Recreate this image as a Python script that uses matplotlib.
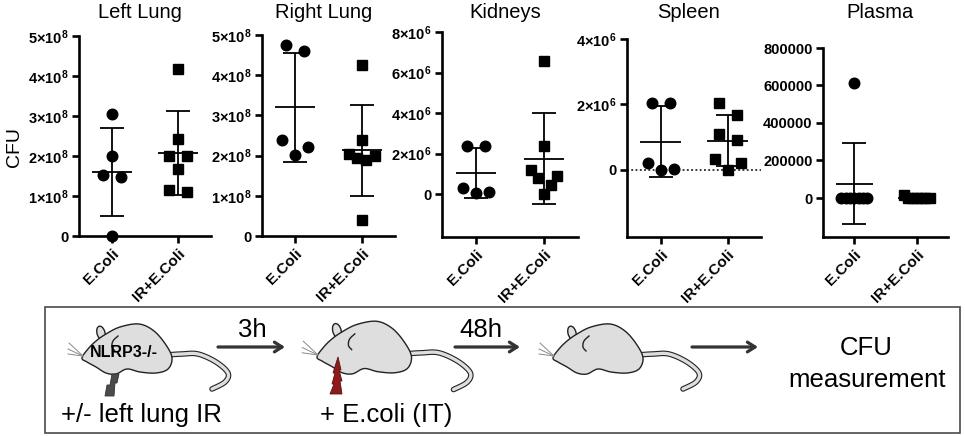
#!/usr/bin/env python3

import numpy as np
import matplotlib
matplotlib.use('Agg')
import matplotlib.pyplot as plt
from matplotlib.patches import Polygon, Ellipse, Rectangle

plt.rcParams['font.family'] = ['Liberation Sans', 'DejaVu Sans']
plt.rcParams['mathtext.fontset'] = 'custom'
plt.rcParams['mathtext.rm'] = 'Liberation Sans:bold'
plt.rcParams['mathtext.bf'] = 'Liberation Sans:bold'
plt.rcParams['mathtext.default'] = 'rm'

W, H = 965, 436

# ---- data (CFU) ----
groups = ['E.Coli', 'IR+E.Coli']
titles = ['Left Lung', 'Right Lung', 'Kidneys', 'Spleen', 'Plasma']

left_ecoli = [3.05e8, 2.0e8, 1.53e8, 1.47e8, 0.0]
left_ir = [4.18e8, 2.42e8, 1.99e8, 1.99e8, 1.68e8, 1.11e8, 1.16e8]
right_ecoli = [4.75e8, 4.61e8, 2.40e8, 2.22e8, 2.01e8]
right_ir = [4.25e8, 2.40e8, 2.05e8, 2.0e8, 1.95e8, 1.9e8, 0.40e8]
kid_ecoli = [2.39e6, 2.39e6, 0.30e6, 0.05e6, 0.08e6]
kid_ir = [6.57e6, 2.39e6, 1.2e6, 0.79e6, 0.87e6, 0.46e6, 0.0]
spl_ecoli = [2.04e6, 2.04e6, 0.2e6, 0.0, 0.02e6]
spl_ir = [2.04e6, 1.68e6, 1.10e6, 0.92e6, 0.33e6, 0.20e6, 0.0]
pla_ecoli = [613000, 0, 0, 0, 0, 0, 0, 0]
pla_ir = [16000, 0, 0, 0, 0, 0, 0]

lung_ticks = [0, 1e8, 2e8, 3e8, 4e8, 5e8]
lung_labels = ['0', '$1×10^{8}$', '$2×10^{8}$', '$3×10^{8}$', '$4×10^{8}$', '$5×10^{8}$']
kid_ticks = [0, 2e6, 4e6, 6e6, 8e6]
kid_labels = ['0', '$2×10^{6}$', '$4×10^{6}$', '$6×10^{6}$', '$8×10^{6}$']
spl_ticks = [0, 2e6, 4e6]
spl_labels = ['0', '$2×10^{6}$', '$4×10^{6}$']
pla_ticks = [0, 200000, 400000, 600000, 800000]
pla_labels = ['0', '200000', '400000', '600000', '800000']

panels = [
    (left_ecoli, left_ir, lung_ticks, lung_labels, (0, 5e8), [79, 36, 211, 236]),
    (right_ecoli, right_ir, lung_ticks, lung_labels, (0, 5e8), [262, 35, 395, 236]),
    (kid_ecoli, kid_ir, kid_ticks, kid_labels, (-2.12e6, 8e6), [442, 32, 578, 237]),
    (spl_ecoli, spl_ir, spl_ticks, spl_labels, (-2.05e6, 4e6), [627, 39, 761, 237]),
    (pla_ecoli, pla_ir, pla_ticks, pla_labels, (-208000, 8e5), [823, 48, 948, 237]),
]


def swarm_x(ax, xc, vals, thresh=12, span=26, step=18):
    vals = np.asarray(vals, float)
    pts = ax.transData.transform(np.column_stack([np.full(len(vals), xc), vals]))
    ypx = pts[:, 1]
    order = np.argsort(ypx, kind='stable')
    clusters = [[order[0]]]
    for i in order[1:]:
        if ypx[i] - ypx[clusters[-1][-1]] < thresh:
            clusters[-1].append(i)
        else:
            clusters.append([i])
    xpx = pts[:, 0].copy()
    for c in clusters:
        k = len(c)
        if k == 1:
            continue
        d = min(step, span / (k - 1))
        if k % 2:
            offs = [0] + [s * m for m in range(1, k) for s in (1, -1)]
        else:
            offs = [s * (m - 0.5) for m in range(1, k) for s in (1, -1)]
        for j, idx in enumerate(c):
            xpx[idx] += offs[j] * d
    inv = ax.transData.inverted()
    return inv.transform(np.column_stack([xpx, ypx]))[:, 0]


fig = plt.figure(figsize=(W / 100, H / 100), dpi=100)

for t, (a, b, ticks, labels, ylim, box) in zip(titles, panels):
    x0, y0, x1, y1 = box
    ax = fig.add_axes([x0 / W, 1 - y1 / H, (x1 - x0) / W, (y1 - y0) / H])
    ax.set_xlim(-0.5, 1.5)
    ax.set_ylim(*ylim)
    for s in ['top', 'right']:
        ax.spines[s].set_visible(False)
    for s in ['left', 'bottom']:
        ax.spines[s].set_linewidth(1.9)
    ax.tick_params(width=1.9, length=5, direction='out', pad=2.5)
    ax.set_yticks(ticks)
    ax.set_yticklabels(labels, fontsize=10.5, fontweight='bold')
    ax.set_xticks([0, 1])
    ax.set_xticklabels(groups, rotation=45, ha='right', rotation_mode='anchor',
                       fontsize=11, fontweight='bold')
    if t == 'Spleen':
        ax.axhline(0, color='black', lw=1.1, ls=(0, (1.2, 1.6)), zorder=1)
    for xc, vals, mk, ms in [(0, a, 'o', 7.6), (1, b, 's', 7.0)]:
        xs = swarm_x(ax, xc, vals)
        ax.plot(xs, vals, mk, color='black', ms=ms, ls='none', clip_on=False, zorder=3)
        m = np.mean(vals)
        sd = np.std(vals, ddof=1)
        ax.errorbar(xc, m, yerr=sd, fmt='none', ecolor='black', elinewidth=1.3,
                    capsize=8.5, capthick=1.3, zorder=4)
        ax.hlines(m, xc - 0.3, xc + 0.3, color='black', lw=1.3, zorder=4)
    cx = (x0 + x1) / 2 - 5
    fig.text(cx / W, 1 - 13 / H, t, ha='center', va='center', fontsize=14.5)

fig.text(15 / W, 1 - 147 / H, 'CFU', rotation=90, ha='center', va='center', fontsize=14)

# ---- bottom schematic, drawn in pixel coordinates ----
ov = fig.add_axes([0, 0, 1, 1])
ov.set_xlim(0, W)
ov.set_ylim(H, 0)
ov.axis('off')
ov.patch.set_alpha(0)

ov.add_patch(Rectangle((45, 307), 915, 126, fill=False, ec='#4a4a4a', lw=1.2))


def catmull(pts, closed=True, n=12):
    p = np.asarray(pts, float)
    if closed:
        p = np.vstack([p[-1], p, p[0], p[1]])
    else:
        p = np.vstack([p[0], p, p[-1]])
    out = []
    for i in range(1, len(p) - 2):
        p0, p1, p2, p3 = p[i - 1], p[i], p[i + 1], p[i + 2]
        for t in np.linspace(0, 1, n, endpoint=False):
            out.append(0.5 * ((2 * p1) + (-p0 + p2) * t + (2 * p0 - 5 * p1 + 4 * p2 - p3) * t ** 2
                              + (-p0 + 3 * p1 - 3 * p2 + p3) * t ** 3))
    if not closed:
        out.append(p[-2])
    return np.array(out)


body_pts = [(0, 0), (6, -9), (14, -17), (24, -24), (38, -31), (57, -34), (72, -27),
            (84, -13), (90, 0), (86, 11), (74, 15), (58, 14), (45, 11), (34, 16),
            (24, 15), (14, 9), (5, 4)]
tail_pts = [(84, -3), (100, -4), (116, -4), (134, 4), (146, 15), (143, 24), (130, 31)]


def mouse(x0, y0, s=1.0):
    grey = '#dedede'
    tail = catmull(tail_pts, closed=False) * s + (x0, y0)
    ov.plot(tail[:, 0], tail[:, 1], color='#222222', lw=4.0, solid_capstyle='round', zorder=2)
    ov.plot(tail[:, 0], tail[:, 1], color=grey, lw=2.4, solid_capstyle='round', zorder=2)
    ov.add_patch(Ellipse((x0 + 19 * s, y0 - 25 * s), 8 * s, 14 * s, angle=-15,
                         fc=grey, ec='#222222', lw=1.0, zorder=2))
    b = catmull(body_pts) * s + (x0, y0)
    ov.add_patch(Polygon(b, closed=True, fc=grey, ec='#222222', lw=1.0, zorder=3))
    ear = catmull([(36, -22), (31, -17), (30, -11), (33, -7)], closed=False) * s + (x0, y0)
    ov.plot(ear[:, 0], ear[:, 1], color='#222222', lw=1.0, zorder=4)
    for ex, ey in [(-13, -15), (-14, -9), (-14, -4)]:
        ov.plot([x0 + 1, x0 + ex * s], [y0 - 2, y0 + ey * s], color='#8a8a8a', lw=0.7, zorder=4)


mouse(82, 358, 1.0)
mouse(317, 357, 1.05)
mouse(553, 358, 1.0)

ov.add_patch(Polygon([(112, 374), (119, 374), (117, 383), (115, 383), (114, 396),
                      (105, 396), (107, 385), (110, 385)], closed=True,
                     fc='#4b4b4b', ec='#333333', lw=0.6, zorder=5))
ov.add_patch(Polygon([(338, 357), (341, 370), (339, 370), (342, 381), (340, 381),
                      (342, 394), (330, 394), (334, 384), (332, 384), (335, 373),
                      (333, 373)], closed=True, fc='#8e1b1b', ec='#5a1010', lw=0.6, zorder=5))

ov.text(124, 352, 'NLRP3-/-', ha='center', va='center', fontsize=11.5,
        fontweight='bold', zorder=6)

arrow = dict(arrowstyle='->,head_length=0.55,head_width=0.35', lw=2.3, color='#333333',
             shrinkA=0, shrinkB=0)
for xa, xb in [(218, 285), (455, 520), (692, 758)]:
    ov.annotate('', xy=(xb, 347), xytext=(xa, 347), arrowprops=arrow, zorder=6)

bt = 18.5
ov.text(252, 337, '3h', ha='center', va='baseline', fontsize=bt)
ov.text(481, 337, '48h', ha='center', va='baseline', fontsize=bt)
ov.text(141, 422, '+/- left lung IR', ha='center', va='baseline', fontsize=bt)
ov.text(386, 422, '+ E.coli (IT)', ha='center', va='baseline', fontsize=bt)
ov.text(866, 355, 'CFU', ha='center', va='baseline', fontsize=bt)
ov.text(867, 387, 'measurement', ha='center', va='baseline', fontsize=bt)

fig.savefig('out.png', dpi=100)
